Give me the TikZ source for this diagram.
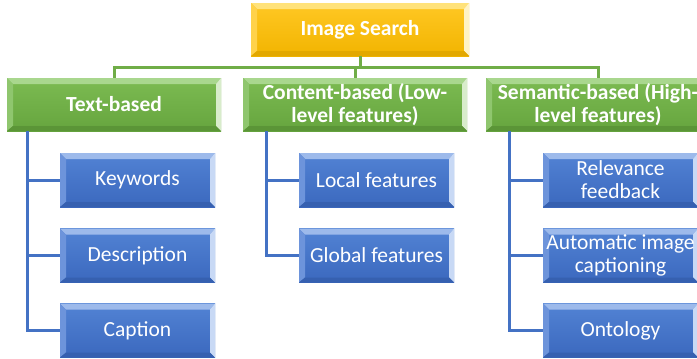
\documentclass[tikz,border=0pt]{standalone}
\usepackage{fontspec}
\setmainfont{Carlito}
\usetikzlibrary{calc}

\definecolor{gcol}{HTML}{70AD47}
\definecolor{bcol}{HTML}{4472C4}
% yellow box
\definecolor{yA}{HTML}{FFC824}\definecolor{yB}{HTML}{F2B400}
\definecolor{yT}{HTML}{FFE27A}\definecolor{yL}{HTML}{FFD24A}
\definecolor{yR}{HTML}{FFF3C4}\definecolor{yD}{HTML}{E2A800}
% green box
\definecolor{gA}{HTML}{7CBB52}\definecolor{gB}{HTML}{66A53E}
\definecolor{gT}{HTML}{A9D78E}\definecolor{gL}{HTML}{8FC66E}
\definecolor{gR}{HTML}{D8ECCB}\definecolor{gD}{HTML}{5B9537}
% blue box
\definecolor{bA}{HTML}{5283D4}\definecolor{bB}{HTML}{3B68BE}
\definecolor{bT}{HTML}{9DBAEB}\definecolor{bL}{HTML}{6D94DB}
\definecolor{bR}{HTML}{C8D9F5}\definecolor{bD}{HTML}{3660B0}

% bevelled box: base top, base bottom, top edge, left edge, right edge, bottom edge
\tikzset{
  bevel/.style n args={6}{
    path picture={
      \path (path picture bounding box.south west) coordinate (b1)
            (path picture bounding box.north east) coordinate (b3);
      \path (b1|-b3) coordinate (b2) (b3|-b1) coordinate (b4);
      \shade[top color=#1,bottom color=#2] (b1) rectangle (b3);
      \fill[#3] (b2) -- (b3) -- ($(b3)+(-5pt,-6pt)$) -- ($(b2)+(6pt,-6pt)$) -- cycle;
      \fill[#4] (b1) -- (b2) -- ($(b2)+(6pt,-6pt)$) -- ($(b1)+(6pt,5pt)$) -- cycle;
      \fill[#5] (b3) -- (b4) -- ($(b4)+(-5pt,5pt)$) -- ($(b3)+(-5pt,-6pt)$) -- cycle;
      \fill[#6] (b4) -- (b1) -- ($(b1)+(6pt,5pt)$) -- ($(b4)+(-5pt,5pt)$) -- cycle;
    }},
  box/.style={rectangle, inner sep=0pt, text=white, align=center,
    font=\fontsize{21.5}{23}\selectfont},
  head/.style={box, font=\bfseries\fontsize{21.5}{23}\selectfont, minimum height=53pt},
  rootbox/.style={head, minimum width=218pt, bevel={yA}{yB}{yT}{yL}{yR}{yD}},
  catbox/.style={head, bevel={gA}{gB}{gT}{gL}{gR}{gD}},
  leafbox/.style={box, minimum width=155pt, minimum height=54pt,
    bevel={bA}{bB}{bT}{bL}{bR}{bD}},
  gline/.style={line width=3pt, color=gcol},
  bline/.style={line width=3pt, color=bcol},
}

\begin{document}
\begin{tikzpicture}[x=1pt, y=-1pt]
  \useasboundingbox (0,0) rectangle (697,359);
  \clip (0,0) rectangle (697,359);
  \fill[white] (0,0) rectangle (697,359);

  % root and categories
  \node[rootbox] (root) at (360,29.5) {Image Search};
  \node[catbox, minimum width=214pt] (tb) at (114,104.5) {Text-based};
  \node[catbox, minimum width=224pt] (cb) at (355,104.5) {Content-based (Low-\\level features)};
  \node[catbox, minimum width=224pt] (sb) at (598,104.5) {Semantic-based (High-\\level features)};

  % leaves
  \node[leafbox] (kw) at (137.5,180) {Keywords};
  \node[leafbox] (de) at (137.5,255.5) {Description};
  \node[leafbox] (ca) at (137.5,330.5) {Caption};
  \node[leafbox] (lf) at (376.5,180) {Local features};
  \node[leafbox] (gf) at (376.5,255.5) {Global features};
  \node[leafbox] (rf) at (620.5,180) {Relevance\\feedback};
  \node[leafbox] (ai) at (620.5,255.5) {Automatic image\\captioning};
  \node[leafbox] (on) at (620.5,330.5) {Ontology};

  % root to categories
  \draw[gline] (root.south) -- ++(0,11) -| (tb.north);
  \draw[gline] (root.south) -- ++(0,11) -| (cb.north);
  \draw[gline] (root.south) -- ++(0,11) -| (sb.north);

  % categories to leaves
  \draw[bline] ([xshift=21pt]tb.south west) |- (kw.west);
  \draw[bline] ([xshift=21pt]tb.south west) |- (de.west);
  \draw[bline] ([xshift=21pt]tb.south west) |- (ca.west);
  \draw[bline] ([xshift=24pt]cb.south west) |- (lf.west);
  \draw[bline] ([xshift=24pt]cb.south west) |- (gf.west);
  \draw[bline] ([xshift=24pt]sb.south west) |- (rf.west);
  \draw[bline] ([xshift=24pt]sb.south west) |- (ai.west);
  \draw[bline] ([xshift=24pt]sb.south west) |- (on.west);
\end{tikzpicture}
\end{document}
